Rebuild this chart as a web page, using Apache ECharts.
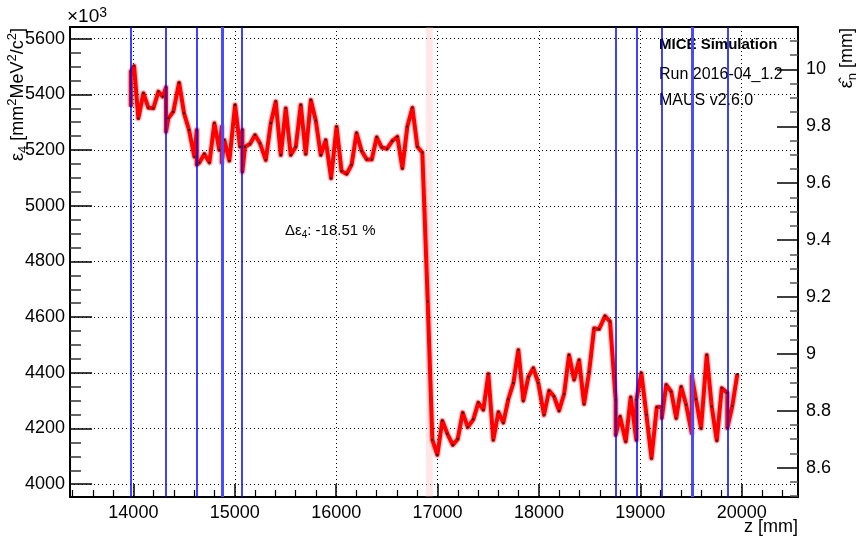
<!DOCTYPE html>
<html><head><meta charset="utf-8">
<script src="https://cdn.jsdelivr.net/npm/echarts@6/dist/echarts.min.js"></script>
<style>html,body{margin:0;padding:0;background:#fff}#c{width:860px;height:538px}</style>
</head><body><div id="c"></div>
<script>
// ---- data ----
const zValues = [13975,13975,14007,14049,14099,14148,14197,14247,14290,14322,14322,14345,14394,14451,14500,14549,14602,14625,14625,14651,14700,14750,14799,14848,14872,14872,14897,14947,15003,15052,15075,15075,15101,15150,15200,15249,15306,15355,15404,15454,15503,15552,15602,15651,15700,15750,15799,15848,15897,15950,16004,16053,16103,16152,16201,16250,16302,16351,16400,16450,16502,16554,16604,16653,16702,16752,16801,16850,16903,16949,16998,17047,17097,17150,17199,17248,17298,17353,17402,17452,17501,17550,17600,17649,17698,17748,17797,17846,17896,17945,17994,18050,18100,18149,18198,18248,18297,18347,18396,18445,18495,18544,18593,18652,18701,18757,18757,18800,18856,18905,18961,18961,19010,19060,19110,19162,19212,19212,19255,19305,19354,19403,19452,19507,19507,19549,19599,19655,19704,19754,19803,19858,19858,19907,19957];
const emittanceValues = [5356,5482,5502,5314,5404,5352,5350,5410,5392,5425,5266,5314,5338,5442,5332,5272,5176,5272,5147,5155,5186,5155,5296,5200,5284,5155,5236,5162,5362,5212,5272,5122,5212,5222,5254,5224,5164,5296,5374,5182,5350,5182,5212,5362,5186,5380,5306,5182,5236,5099,5284,5125,5114,5147,5261,5198,5166,5166,5246,5209,5205,5233,5248,5135,5285,5352,5212,5191,4656,4159,4105,4228,4181,4141,4162,4257,4205,4233,4293,4267,4396,4159,4259,4221,4305,4363,4482,4300,4386,4417,4363,4249,4336,4315,4264,4324,4464,4375,4446,4288,4404,4560,4557,4604,4584,4303,4177,4243,4153,4312,4159,4303,4399,4249,4093,4276,4278,4238,4357,4332,4237,4350,4285,4183,4389,4305,4201,4464,4279,4157,4345,4328,4202,4281,4396];
const stationZ = [13977,14322,14625,14872,15072,18760,18962,19211,19512,19860];
const doubledStations = [14872,19512];
const absorberBand = [16884,16953];
const xMajorTicks = [14000,15000,16000,17000,18000,19000,20000];
const leftMajorTicks = [4000,4200,4400,4600,4800,5000,5200,5400,5600];
const rightMajorTicks = [8.6,8.8,9,9.2,9.4,9.6,9.8,10];
const xRange = [13375,20555];
const leftRange = [3954,5642];
const rightRange = [8.497,10.149];

// minor tick positions derived from the majors
function minors(majors, step, lo, hi){
  const out=[]; const d=(majors[1]-majors[0])/step;
  const start=majors[0]-Math.ceil((majors[0]-lo)/d)*d;
  for(let v=start; v<=hi+1e-9; v+=d){ const r=Math.round(v*1000)/1000; if(r>=lo && !majors.some(m=>Math.abs(m-r)<1e-6)) out.push(r); }
  return out;
}
const xMinorTicks = minors(xMajorTicks,5,xRange[0],xRange[1]);
const leftMinorTicks = minors(leftMajorTicks,4,leftRange[0],leftRange[1]);
const rightMinorTicks = minors(rightMajorTicks,4,rightRange[0],rightRange[1]);

const FONT = '"Liberation Sans", Arial, Helvetica, sans-serif';
const points = zValues.map((z,i)=>[z, emittanceValues[i]]);

const chart = echarts.init(document.getElementById('c'), null, {renderer:'canvas'});
const hidden = {show:false};
const supSub = (size)=>({
  sup:{fontSize:size,fontFamily:FONT,fill:'#000',verticalAlign:'top'},
  sub:{fontSize:size,fontFamily:FONT,fill:'#000',verticalAlign:'bottom'}
});
const option = {
  animation:false,
  backgroundColor:'#fff',
  grid:{left:70,right:62,top:27,bottom:41,show:true,borderColor:'#000',borderWidth:2,backgroundColor:'transparent'},
  xAxis:[
    {type:'value',min:xRange[0],max:xRange[1],position:'bottom',
     axisLine:{lineStyle:{color:'#000',width:2}},
     axisTick:{inside:true,length:13,customValues:xMajorTicks,lineStyle:{color:'#000',width:1.5}},
     axisLabel:{customValues:xMajorTicks,color:'#000',fontSize:18,fontFamily:FONT,margin:7,formatter:v=>String(v)},
     splitLine:{show:true,lineStyle:{color:'#000',type:[1,3],width:1}}},
    {type:'value',min:xRange[0],max:xRange[1],position:'bottom',
     axisLine:hidden,
     axisTick:{inside:true,length:7,customValues:xMinorTicks,lineStyle:{color:'#000',width:1.2}},
     axisLabel:hidden,splitLine:hidden}
  ],
  yAxis:[
    {type:'value',min:leftRange[0],max:leftRange[1],position:'left',
     axisLine:{show:true,lineStyle:{color:'#000',width:2}},
     axisTick:{inside:true,length:22,customValues:leftMajorTicks,lineStyle:{color:'#000',width:1.5}},
     axisLabel:{customValues:leftMajorTicks,color:'#000',fontSize:18,fontFamily:FONT,margin:5,formatter:v=>String(v)},
     splitLine:{show:true,lineStyle:{color:'#000',type:[1,3],width:1}}},
    {type:'value',min:leftRange[0],max:leftRange[1],position:'left',
     axisLine:hidden,
     axisTick:{inside:true,length:11,customValues:leftMinorTicks,lineStyle:{color:'#333',width:1.5}},
     axisLabel:hidden,splitLine:hidden},
    {type:'value',min:rightRange[0],max:rightRange[1],position:'right',
     axisLine:{show:true,lineStyle:{color:'#000',width:2}},
     axisTick:{inside:true,length:21,customValues:rightMajorTicks,lineStyle:{color:'#000',width:1.5}},
     axisLabel:{customValues:rightMajorTicks,color:'#000',fontSize:18,fontFamily:FONT,margin:8,formatter:v=>String(Math.round(v*10)/10)},
     splitLine:hidden},
    {type:'value',min:rightRange[0],max:rightRange[1],position:'right',
     axisLine:hidden,
     axisTick:{inside:true,length:8,customValues:rightMinorTicks,lineStyle:{color:'#555',width:1.5}},
     axisLabel:hidden,splitLine:hidden}
  ],
  series:[
    {type:'line',xAxisIndex:0,yAxisIndex:0,data:[],silent:true,
     markArea:{silent:true,itemStyle:{color:'rgba(255,170,170,0.28)'},
       data:[[{xAxis:absorberBand[0]},{xAxis:absorberBand[1]}]]}},
    {type:'line',xAxisIndex:0,yAxisIndex:0,data:points,showSymbol:false,silent:true,z:2,
     lineStyle:{color:'rgba(255,40,40,0.28)',width:6.5,join:'round'}},
    {type:'line',xAxisIndex:0,yAxisIndex:0,data:points,z:3,silent:true,
     symbol:'circle',symbolSize:2,itemStyle:{color:'#000'},
     lineStyle:{color:'#ff0000',width:4,join:'round'}},
    {type:'line',xAxisIndex:0,yAxisIndex:0,data:[],silent:true,z:6,
     markLine:{silent:true,symbol:['none','none'],label:{show:false},animation:false,
       lineStyle:{color:'#0000ff',width:1.5,type:'solid'},
       data:stationZ.map(z=>doubledStations.includes(z)
         ? {xAxis:z,lineStyle:{color:'#4a4aff',width:3,type:'solid'}}
         : {xAxis:z})}}
  ],
  graphic:[
    {type:'text',x:659,y:45,style:{text:'MICE Simulation',font:'bold 15px '+FONT,fill:'#000',verticalAlign:'middle'}},
    {type:'text',x:659,y:74.5,style:{text:'Run 2016-04_1.2',font:'16px '+FONT,fill:'#000',verticalAlign:'middle'}},
    {type:'text',x:659,y:101,style:{text:'MAUS v2.6.0',font:'16px '+FONT,fill:'#000',verticalAlign:'middle'}},
    {type:'text',x:285,y:231,style:{text:'Δε{sub|4}: -18.51 %',fontSize:15,fontFamily:FONT,lineHeight:18,fill:'#000',verticalAlign:'middle',rich:supSub(10)}},
    {type:'text',x:67,y:17,style:{text:'×10{sup|3}',fontSize:19,fontFamily:FONT,lineHeight:22,fill:'#000',verticalAlign:'middle',rich:supSub(14)}},
    {type:'text',x:798,y:527,style:{text:'z [mm]',font:'18px '+FONT,fill:'#000',align:'right',verticalAlign:'middle'}},
    {type:'text',x:18,y:28,rotation:Math.PI/2,style:{text:'ε{sub|4} [mm{sup|2}MeV{sup|2}/c{sup|2}]',fontSize:18,fontFamily:FONT,lineHeight:24,fill:'#000',align:'right',verticalAlign:'middle',rich:supSub(13)}},
    {type:'text',x:847,y:28,rotation:Math.PI/2,style:{text:'ε̂{sub|n} [mm]',fontSize:18,fontFamily:FONT,lineHeight:24,fill:'#000',align:'right',verticalAlign:'middle',rich:supSub(13)}}
  ]
};
chart.setOption(option);
</script></body></html>
